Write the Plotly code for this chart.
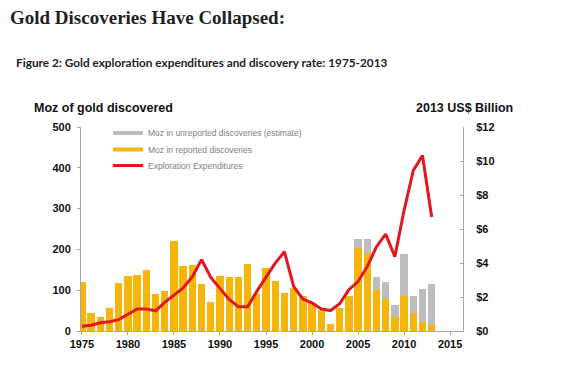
import plotly.graph_objects as go

years = list(range(1975, 2014))
reported = [120, 45, 35, 57, 118, 136, 137, 150, 91, 99,
            220, 160, 163, 116, 72, 136, 132, 132, 165, 90,
            155, 122, 93, 106, 85, 68, 52, 18, 57, 85,
            204, 192, 101, 78, 35, 86, 45, 23, 15]
unreported = [0, 0, 0, 0, 0, 0, 0, 0, 0, 0,
              0, 0, 0, 0, 0, 0, 0, 0, 0, 0,
              0, 0, 0, 0, 0, 0, 0, 0, 0, 0,
              21, 33, 32, 41, 29, 102, 41, 80, 100]
expenditure = [0.28, 0.34, 0.48, 0.54, 0.67, 0.96, 1.30, 1.30, 1.18, 1.68,
               2.10, 2.53, 3.20, 4.20, 3.15, 2.53, 1.86, 1.42, 1.42, 2.33,
               3.20, 3.99, 4.66, 2.62, 1.88, 1.65, 1.30, 1.20, 1.60, 2.43,
               2.91, 3.79, 4.96, 5.70, 4.37, 7.10, 9.44, 10.32, 6.71]
x_ticks = [1975, 1980, 1985, 1990, 1995, 2000, 2005, 2010, 2015]
left_ticks = [0, 100, 200, 300, 400, 500]
right_ticks = [0, 2, 4, 6, 8, 10, 12]
right_labels = ["$" + str(v) for v in right_ticks]

GOLD = "#F6B50A"
GREY = "#BDBDBD"
RED = "#E3161D"
AXIS = "#A6A6A6"
SANS = "Liberation Sans, Arial, sans-serif"

# page body has an 8px margin: figure is 572x365 and drawn from (8, 8)
OFF = 8
W, H = 580 - OFF, 373 - OFF
L, R, T, B = 81, 463, 127, 331   # plot area in screenshot pixels

def px(x):
    return (x - L) / (R - L)
def py(y):
    return (B - y) / (B - T)

fig = go.Figure()
fig.add_trace(go.Scatter(x=[None], y=[None], mode="lines", name="Moz in unreported discoveries (estimate)",
                         line=dict(color=GREY, width=4), legend="legend"))
fig.add_trace(go.Scatter(x=[None], y=[None], mode="lines", name="Moz in reported discoveries",
                         line=dict(color=GOLD, width=4), legend="legend2"))
fig.add_trace(go.Bar(x=years, y=reported, marker=dict(color=GOLD, line=dict(width=0)), showlegend=False))
fig.add_trace(go.Bar(x=years, y=unreported, marker=dict(color=GREY, line=dict(width=0)), showlegend=False))
fig.add_trace(go.Scatter(x=years, y=expenditure, yaxis="y2", mode="lines", name="Exploration Expenditures",
                         line=dict(color=RED, width=3), legend="legend3"))

annotations = [
    dict(text="<b>Gold Discoveries Have Collapsed:</b>", x=px(8), y=py(18), xanchor="left", yanchor="middle",
         font=dict(family="Liberation Serif, Times New Roman, serif", size=19, color="#1f1f1f")),
    dict(text="<b>Figure 2: Gold exploration expenditures and discovery rate: 1975-2013</b>", x=px(14), y=py(62),
         xanchor="left", yanchor="middle", font=dict(family="Lato, sans-serif", size=11.8, color="#222222")),
    dict(text="<b>Moz of gold discovered</b>", x=px(32), y=py(108), xanchor="left", yanchor="middle",
         font=dict(family=SANS, size=12.5, color="#111111")),
    dict(text="<b>2013 US$ Billion</b>", x=px(414), y=py(108), xanchor="left", yanchor="middle",
         font=dict(family=SANS, size=12.5, color="#111111")),
]
for a in annotations:
    a.update(xref="paper", yref="paper", showarrow=False)

def leg(ycenter):
    return dict(x=px(108), y=py(ycenter), xanchor="left", yanchor="middle", bgcolor="rgba(0,0,0,0)",
                font=dict(family=SANS, size=8.5, color="#808080"), itemwidth=30)

tickfont = dict(family=SANS, size=11, color="#111111", weight="bold")

fig.update_layout(
    width=W, height=H,
    margin=dict(l=L - OFF, r=W - (R - OFF), t=T - OFF, b=H - (B - OFF), pad=0, autoexpand=False),
    paper_bgcolor="white", plot_bgcolor="white",
    barmode="stack", bargap=0.2,
    showlegend=True,
    legend=leg(133), legend2=leg(149.5), legend3=leg(165.5),
    annotations=annotations,
    xaxis=dict(range=[1974.9, 2016.4], tickvals=x_ticks, showgrid=False, zeroline=False, automargin=False,
               showline=True, linecolor=AXIS, linewidth=1, ticks="outside", ticklen=3, tickcolor=AXIS,
               tickfont=tickfont),
    yaxis=dict(range=[0, 500], tickvals=left_ticks, showgrid=False, zeroline=False, automargin=False,
               showline=True, linecolor=AXIS, linewidth=1, ticks="outside", ticklen=3, tickcolor=AXIS,
               tickfont=tickfont, ticklabelstandoff=4),
    yaxis2=dict(range=[0, 12], tickvals=right_ticks, ticktext=right_labels, overlaying="y", side="right",
                showgrid=False, zeroline=False, showline=True, linecolor=AXIS, linewidth=1, automargin=False,
                ticks="inside", ticklen=3, tickcolor=AXIS, tickfont=tickfont, ticklabelstandoff=10),
)

fig.write_html("out.html")
